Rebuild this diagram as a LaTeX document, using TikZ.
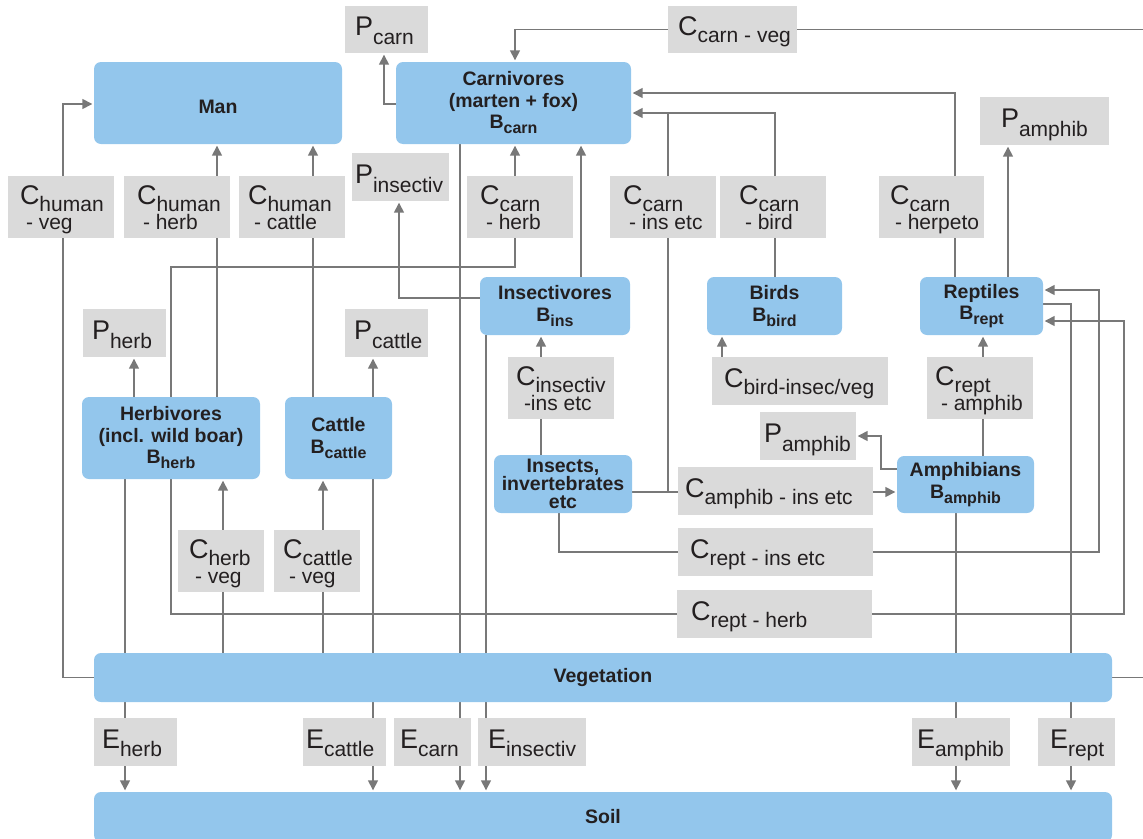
\documentclass[tikz,border=0pt]{standalone}
\usepackage{fontspec}
\setmainfont{Liberation Sans}
\usetikzlibrary{arrows.meta}
\pgfdeclarelayer{bg}
\pgfsetlayers{bg,main}
\definecolor{boxblue}{HTML}{93C6EC}
\definecolor{lblgray}{HTML}{DADADA}
\definecolor{linegray}{HTML}{787878}
\definecolor{txtc}{HTML}{231F20}
\newcommand{\bsub}[1]{\raisebox{-5pt}{\fontsize{16}{16}\selectfont #1}}
\newcommand{\lC}[1]{{\fontsize{27}{27}\selectfont C}\raisebox{-7pt}[0pt][0pt]{#1}}
\newcommand{\lP}[1]{{\fontsize{27}{27}\selectfont P}\raisebox{-9pt}[0pt][0pt]{#1}}
\newcommand{\lE}[1]{{\fontsize{27}{27}\selectfont E}\raisebox{-8pt}[0pt][0pt]{#1}}
\newcommand{\bb}[6]{\node[bluebox, minimum width={#4pt-#2pt}, minimum height={#5pt-#3pt}] (#1) at ({(#2+#4)/2},{(#3+#5)/2}) {#6};}
\newcommand{\gb}[7]{\node[graybox, minimum width={#4pt-#2pt}, minimum height={#5pt-#3pt}] (#1) at ({(#2+#4)/2},{(#3+#5)/2}) {};
  \node[gtext] (#1t) at ([xshift=#6pt]#1.west) {#7};}
\newcommand{\gbb}[7]{\node[graybox, minimum width={#4pt-#2pt}, minimum height={#5pt-#3pt}] (#1) at ({(#2+#4)/2},{(#3+#5)/2}) {};
  \node[gtexttwo] (#1t) at ([xshift=#6pt]#1.west) {#7};}
\begin{document}
\begin{tikzpicture}[x=1pt,y=-1pt,
  conn/.style={draw=linegray,line width=1.5pt},
  arr/.style={conn,-{Triangle[length=10pt,width=10pt]},shorten >=1.5pt},
  bluebox/.style={fill=boxblue,rounded corners=7pt,inner sep=0pt,align=center,text=txtc,font=\bfseries\fontsize{19.5}{21.5}\selectfont},
  graybox/.style={fill=lblgray,inner sep=0pt},
  gtext/.style={anchor=west,inner sep=0pt,text=txtc,font=\fontsize{21}{25}\selectfont,text height=21pt,text depth=9pt},
  gtexttwo/.style={anchor=west,inner sep=0pt,text=txtc,font=\fontsize{21}{25}\selectfont,align=left,text height=47.5pt,text depth=2pt}]
\useasboundingbox (0,0) rectangle (1143,838);
\foreach \v in {63,125,134,171,217,223,313,323,373,384,399,460,486,515,541,559,581,668,722,775,881,955,956,983,1008,1071,1099,1124,1150}
  \coordinate (X\v) at (\v,0);
\foreach \v in {93,104,113,267,290,298,304,321,469,492}
  \coordinate (Y\v) at (0,\v);

% blue boxes
\node[bluebox,minimum width=248pt,minimum height=82pt,text height=20pt,text depth=0pt] (man) at (218,103) {Man};
\bb{carn}{396}{62}{631}{144}{Carnivores\\(marten + fox)\\B\bsub{carn}}
\bb{ins}{480}{277}{630}{335}{Insectivores\\B\bsub{ins}}
\bb{birds}{707}{277}{842}{335}{Birds\\B\bsub{bird}}
\bb{rept}{920}{277}{1043}{335}{Reptiles\\B\bsub{rept}}
\bb{herb}{82}{397}{260}{479}{Herbivores\\(incl. wild boar)\\B\bsub{herb}}
\bb{cattle}{285}{397}{392}{479}{Cattle\\B\bsub{cattle}}
\node[bluebox,font=\bfseries\fontsize{19.5}{18}\selectfont,minimum width=138pt,minimum height=58pt] (insects) at (563,484) {Insects,\\invertebrates\\etc};
\bb{amph}{897}{456}{1034}{513}{Amphibians\\B\bsub{amphib}}
\bb{veg}{94}{653}{1112}{702}{Vegetation}
\bb{soil}{94}{792}{1112}{842}{Soil}

% gray labels
\gb{pcarn}{345}{6}{428}{53}{10}{\lP{carn}}
\gb{ccv}{668}{6}{797}{53}{10}{\lC{carn - veg}}
\gb{pamt}{980}{97}{1109}{145}{21}{\lP{amphib}}
\gbb{chv}{8}{176}{114}{238}{12}{\lC{human}\\\hspace*{6pt}- veg}
\gbb{chh}{124}{176}{230}{238}{13}{\lC{human}\\\hspace*{6pt}- herb}
\gbb{chc}{239}{176}{345}{238}{9}{\lC{human}\\\hspace*{6pt}- cattle}
\gb{pins}{352}{153}{449}{201}{3}{\lP{insectiv}}
\gbb{cch}{467}{176}{573}{238}{13}{\lC{carn}\\\hspace*{6pt}- herb}
\gbb{cci}{610}{176}{716}{238}{13}{\lC{carn}\\\hspace*{6pt}- ins etc}
\gbb{ccb}{720}{176}{826}{238}{19}{\lC{carn}\\\hspace*{6pt}- bird}
\gbb{cchp}{879}{176}{984}{238}{11}{\lC{carn}\\\hspace*{5pt}- herpeto}
\gb{pherb}{83}{309}{166}{357}{9}{\lP{herb}}
\gb{pcattle}{345}{309}{428}{357}{9}{\lP{cattle}}
\gbb{cinsv}{508}{357}{614}{419}{8}{\lC{insectiv}\\\hspace*{8pt}-ins etc}
\gb{cbird}{712}{357}{888}{405}{12}{\lC{bird-insec/veg}}
\gbb{cra}{927}{357}{1033}{419}{8}{\lC{rept}\\\hspace*{6pt}- amphib}
\gb{pamm}{760}{412}{856}{460}{4}{\lP{amphib}}
\gb{camph}{678}{467}{873}{515}{7}{\lC{amphib - ins etc}}
\gb{cri}{678}{528}{873}{576}{12}{\lC{rept - ins etc}}
\gb{crh}{677}{590}{872}{638}{14}{\lC{rept - herb}}
\gbb{chvg}{178}{530}{264}{592}{11}{\lC{herb}\\\hspace*{6pt}- veg}
\gbb{ccatv}{274}{530}{360}{592}{9}{\lC{cattle}\\\hspace*{6pt}- veg}
\gb{eherb}{94}{718}{177}{766}{8}{\lE{herb}}
\gb{ecat}{303}{718}{386}{766}{3}{\lE{cattle}}
\gb{ecarn}{394}{718}{471}{766}{6}{\lE{carn}}
\gb{eins}{478}{718}{586}{766}{10}{\lE{insectiv}}
\gb{eamph}{912}{718}{1010}{766}{5}{\lE{amphib}}
\gb{erept}{1038}{718}{1115}{766}{12}{\lE{rept}}

\begin{pgfonlayer}{bg}
% Ccarn-veg
\draw[arr] (ccv.west) -- (X515 |- ccv.west) -- (X515 |- carn.north);
\draw[conn] (ccv.east) -- (X1150 |- ccv.east);
\draw[conn] (veg.east) -- (X1150 |- veg.east);
% Pcarn
\draw[arr] (carn.west |- Y104) -- (X384 |- Y104) -- (X384 |- pcarn.south);
% Chuman-veg
\draw[conn] (veg.west) -- (X63 |- veg.west) -- (X63 |- chv.south);
\draw[arr] (X63 |- chv.north) -- (X63 |- Y104) -- (man.west |- Y104);
% Chuman-herb, Chuman-cattle
\draw[conn] (X217 |- herb.north) -- (X217 |- chh.south);
\draw[arr] (X217 |- chh.north) -- (X217 |- man.south);
\draw[conn] (X313 |- cattle.north) -- (X313 |- chc.south);
\draw[arr] (X313 |- chc.north) -- (X313 |- man.south);
% Pherb, Pcattle
\draw[arr] (X134 |- herb.north) -- (X134 |- pherb.south);
\draw[arr] (X373 |- cattle.north) -- (X373 |- pcattle.south);
% Ccarn-herb
\draw[conn] (X171 |- herb.north) -- (X171 |- Y267) -- (X515 |- Y267) -- (X515 |- cch.south);
\draw[arr] (X515 |- cch.north) -- (X515 |- carn.south);
% Pinsectiv
\draw[arr] (ins.west |- Y298) -- (X399 |- Y298) -- (X399 |- pins.south);
% insectivores to carnivores
\draw[arr] (X581 |- ins.north) -- (X581 |- carn.south);
% Ccarn-ins etc
\draw[conn] (insects.east |- Y492) -- (camph.west |- Y492);
\draw[conn] (X668 |- Y492) -- (X668 |- cci.south);
\draw[conn] (X668 |- cci.north) -- (X668 |- Y113);
% Ccarn-bird
\draw[conn] (X775 |- birds.north) -- (X775 |- ccb.south);
\draw[arr] (X775 |- ccb.north) -- (X775 |- Y113) -- (carn.east |- Y113);
% Ccarn-herpeto
\draw[conn] (X955 |- rept.north) -- (X955 |- cchp.south);
\draw[arr] (X955 |- cchp.north) -- (X955 |- Y93) -- (carn.east |- Y93);
% Pamphib (top)
\draw[arr] (X1008 |- rept.north) -- (X1008 |- pamt.south);
% Cbird
\draw[arr] (X722 |- cbird.north) -- (X722 |- birds.south);
% Cinsectiv
\draw[conn] (X541 |- insects.north) -- (X541 |- cinsv.south);
\draw[arr] (X541 |- cinsv.north) -- (X541 |- ins.south);
% Camphib
\draw[arr] (camph.east |- Y492) -- (amph.west |- Y492);
% Pamphib (middle)
\draw[arr] (amph.west |- Y469) -- (X881 |- Y469) -- (X881 |- pamm.east) -- (pamm.east);
% Crept-amphib
\draw[conn] (X983 |- amph.north) -- (X983 |- cra.south);
\draw[arr] (X983 |- cra.north) -- (X983 |- rept.south);
% Crept-ins etc
\draw[conn] (X559 |- insects.south) -- (X559 |- cri.west) -- (cri.west);
\draw[arr] (cri.east) -- (X1099 |- cri.east) -- (X1099 |- Y290) -- (rept.east |- Y290);
% Crept-herb
\draw[conn] (X171 |- herb.south) -- (X171 |- crh.west) -- (crh.west);
\draw[arr] (crh.east) -- (X1124 |- crh.east) -- (X1124 |- Y321) -- (rept.east |- Y321);
% Erept
\draw[conn] (rept.east |- Y304) -- (X1071 |- Y304) -- (X1071 |- erept.north);
\draw[arr] (X1071 |- erept.south) -- (X1071 |- soil.north);
% Eamphib
\draw[conn] (X956 |- amph.south) -- (X956 |- eamph.north);
\draw[arr] (X956 |- eamph.south) -- (X956 |- soil.north);
% Ecarn
\draw[conn] (X460 |- carn.south) -- (X460 |- ecarn.north);
\draw[arr] (X460 |- ecarn.south) -- (X460 |- soil.north);
% Einsectiv
\draw[conn] (X486 |- ins.south) -- (X486 |- eins.north);
\draw[arr] (X486 |- eins.south) -- (X486 |- soil.north);
% Ecattle
\draw[conn] (X373 |- cattle.south) -- (X373 |- ecat.north);
\draw[arr] (X373 |- ecat.south) -- (X373 |- soil.north);
% Eherb
\draw[conn] (X125 |- herb.south) -- (X125 |- eherb.north);
\draw[arr] (X125 |- eherb.south) -- (X125 |- soil.north);
% Cherb-veg
\draw[conn] (X223 |- veg.north) -- (X223 |- chvg.south);
\draw[arr] (X223 |- chvg.north) -- (X223 |- herb.south);
% Ccattle-veg
\draw[conn] (X323 |- veg.north) -- (X323 |- ccatv.south);
\draw[arr] (X323 |- ccatv.north) -- (X323 |- cattle.south);
\end{pgfonlayer}
\end{tikzpicture}
\end{document}
